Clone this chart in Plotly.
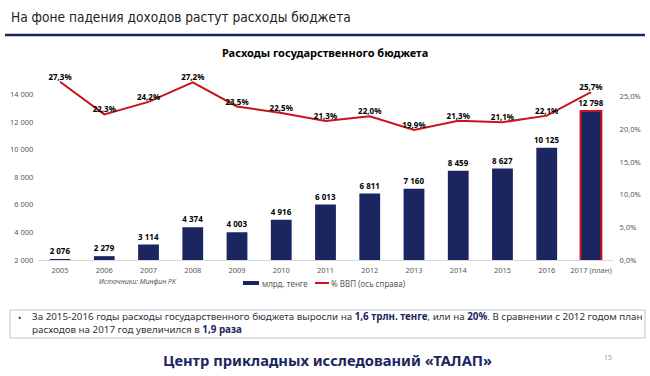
import plotly.graph_objects as go

years = ['2005', '2006', '2007', '2008', '2009', '2010', '2011', '2012',
         '2013', '2014', '2015', '2016', '2017 (план)']
spending = [2076, 2279, 3114, 4374, 4003, 4916, 6013, 6811, 7160, 8459, 8627, 10125, 12798]
gdp_share = [27.3, 22.3, 24.2, 27.2, 23.5, 22.5, 21.3, 22.0, 19.9, 21.3, 21.1, 22.1, 25.7]
left_ticks = [2000, 4000, 6000, 8000, 10000, 12000, 14000]
right_ticks = [0, 5, 10, 15, 20, 25]
right_tick_labels = ['0,0%', '5,0%', '10,0%', '15,0%', '20,0%', '25,0%']

W, H = 650, 376
NAVY = '#1b2660'
RED = '#c8141c'
GRAY = '#595959'
FONT = 'Noto Sans'


def px(x):
    return x / W


def py(y):
    return 1 - y / H


bar_line_colors = ['rgba(0,0,0,0)'] * (len(years) - 1) + [RED]
bar_line_widths = [0] * (len(years) - 1) + [2]

fig = go.Figure()
fig.add_trace(go.Bar(
    x=years, y=spending, name='млрд. тенге',
    marker=dict(color=NAVY, line=dict(color=bar_line_colors, width=bar_line_widths)),
    texttemplate='<b>%{y:,d}</b>', textposition='outside', cliponaxis=False,
    textfont=dict(family=FONT, size=8, color='#000000'),
    showlegend=False,
))
fig.add_trace(go.Scatter(
    x=years, y=gdp_share, yaxis='y2', mode='lines+text', name='% ВВП (ось справа)',
    line=dict(color=RED, width=2),
    texttemplate='<b>%{y:.1f}%</b>', textposition='top center', cliponaxis=False,
    textfont=dict(family=FONT, size=8, color='#000000'),
    showlegend=False,
))

fig.update_layout(
    width=W, height=H, margin=dict(l=0, r=0, t=0, b=0, autoexpand=False),
    paper_bgcolor='white', plot_bgcolor='white',
    separators=', ', bargap=0.53, uniformtext=dict(minsize=8, mode='show'),
    font=dict(family=FONT, color=GRAY),
    xaxis=dict(type='category', domain=[px(37.9), px(613.1)], range=[-0.5, 12.5],
               showgrid=False, showline=True, automargin=False,
               linecolor='#d9d9d9', linewidth=1, ticks='outside', ticklen=3,
               tickcolor='rgba(0,0,0,0)', tickfont=dict(size=7.5, color=GRAY)),
    yaxis=dict(domain=[py(260), py(66)], range=[2000, 16050], tickvals=left_ticks,
               tickformat=',d', showgrid=False, zeroline=False, showline=False,
               automargin=False, ticks='outside', ticklen=2, tickcolor='rgba(0,0,0,0)',
               tickfont=dict(size=7.5, color=GRAY)),
    yaxis2=dict(domain=[py(260), py(66)], overlaying='y', side='right', range=[0, 29.7],
                tickvals=right_ticks, ticktext=right_tick_labels, showgrid=False,
                zeroline=False, showline=False, automargin=False, ticks='outside', ticklen=4,
                tickcolor='rgba(0,0,0,0)', tickfont=dict(size=7.5, color=GRAY)),
)

shapes = [
    dict(type='line', xref='paper', yref='paper', x0=px(5), x1=px(645), y0=py(35), y1=py(35),
         line=dict(color=NAVY, width=2.5)),
    dict(type='rect', xref='paper', yref='paper', x0=px(243), x1=px(259), y0=py(285), y1=py(281),
         fillcolor=NAVY, line=dict(width=0)),
    dict(type='line', xref='paper', yref='paper', x0=px(315), x1=px(329), y0=py(283), y1=py(283),
         line=dict(color=RED, width=2)),
    dict(type='rect', xref='paper', yref='paper', x0=px(10), x1=px(645), y0=py(338), y1=py(310),
         line=dict(color='#b9c6da', width=1), layer='below'),
]


def note(text, x, y, xanchor='left', **font):
    return dict(text=text, x=px(x), y=py(y), xref='paper', yref='paper',
                xanchor=xanchor, yanchor='middle', align='left', showarrow=False,
                font=dict(font))


annotations = [
    note('На фоне падения доходов растут расходы бюджета', 9, 17,
         family='DejaVu Sans Condensed', size=13.6, color='#222222'),
    note('<b>Расходы государственного бюджета</b>', 325, 52, 'center',
         family=FONT, size=11, color='#000000'),
    note('<i>Источники: Минфин РК</i>', 97, 281, family=FONT, size=7, color=GRAY),
    note('млрд. тенге', 260, 283, family=FONT, size=8, color=GRAY),
    note('% ВВП (ось справа)', 329, 283, family=FONT, size=8, color=GRAY),
    note('•', 16, 317, family=FONT, size=9, color='#333333'),
    note('За 2015-2016 годы расходы государственного бюджета выросли на '
         '<b><span style="color:#1b2660">1,6 трлн. тенге</span></b>, или на '
         '<b><span style="color:#1b2660">20%</span></b>. В сравнении с 2012 годом план<br>'
         'расходов на 2017 год увеличился в <b><span style="color:#1b2660">1,9 раза</span></b>',
         30, 323, family=FONT, size=9.8, color='#333333'),
    note('<b>Центр прикладных исследований «ТАЛАП»</b>', 327, 360, 'center',
         family=FONT, size=14.7, color=NAVY),
    note('15', 608, 357, 'center', family=FONT, size=7, color='#999999'),
]

fig.update_layout(shapes=shapes, annotations=annotations)
fig.write_html('out.html', config={'displayModeBar': False},
               post_script="document.body.style.margin='0';")
